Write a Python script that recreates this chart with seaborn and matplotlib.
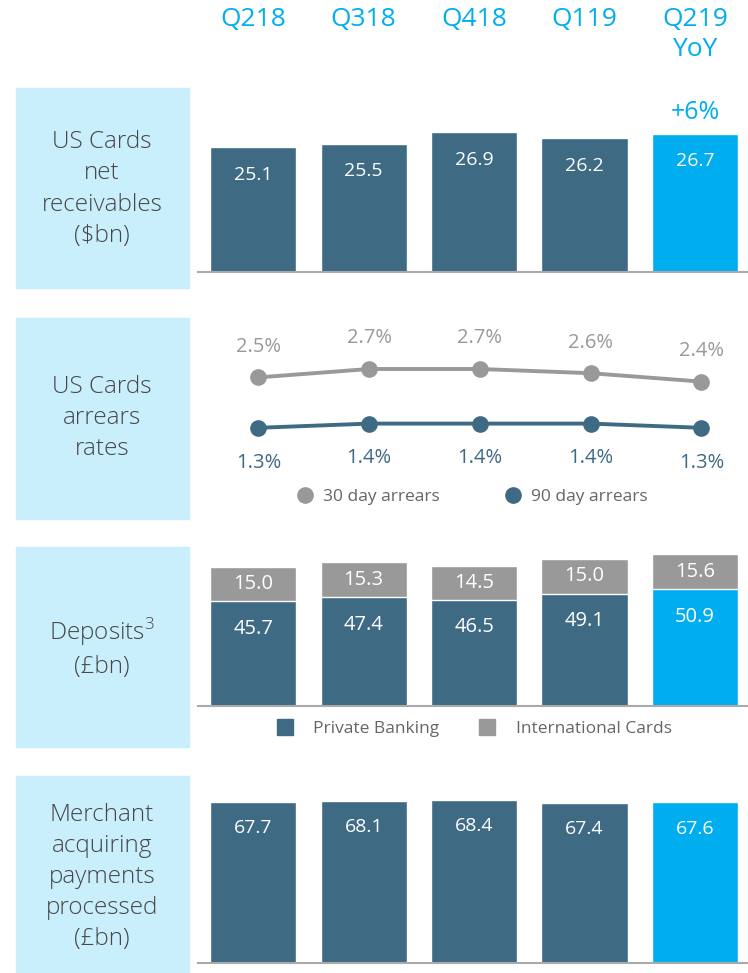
import matplotlib.pyplot as plt
import matplotlib.transforms as mtransforms
from matplotlib.patches import Rectangle
from matplotlib.lines import Line2D
import seaborn as sns
import pandas as pd

# Data
quarters = ['Q218', 'Q318', 'Q418', 'Q119', 'Q219']
receivables = [25.1, 25.5, 26.9, 26.2, 26.7]
arrears_30 = [2.5, 2.7, 2.7, 2.6, 2.4]
arrears_90 = [1.3, 1.4, 1.4, 1.4, 1.3]
private_banking = [45.7, 47.4, 46.5, 49.1, 50.9]
intl_cards = [15.0, 15.3, 14.5, 15.0, 15.6]
merchant = [67.7, 68.1, 68.4, 67.4, 67.6]
yoy_text = '+6%'

side_labels = ['US Cards\nnet\nreceivables\n($bn)',
               'US Cards\narrears\nrates',
               'Deposits$^{\\mathregular{3}}$\n(£bn)',
               'Merchant\nacquiring\npayments\nprocessed\n(£bn)']

DARK = '#3F6A84'
BRIGHT = '#00AEEF'
GREY = '#999999'
BOX = '#C9EEFC'
TXT = '#474747'

sns.set_style('white')
plt.rcParams['font.family'] = ['Open Sans', 'DejaVu Sans']

W, H = 748, 973
fig = plt.figure(figsize=(W / 100, H / 100), dpi=100)


def px_axes(left, top, right, bottom):
    return fig.add_axes([left / W, 1 - bottom / H, (right - left) / W, (bottom - top) / H])


def clean(ax, baseline=True):
    ax.set_xlabel('')
    ax.set_ylabel('')
    ax.set_xticks([])
    ax.set_yticks([])
    for s in ['top', 'left', 'right']:
        ax.spines[s].set_visible(False)
    if baseline:
        ax.spines['bottom'].set_color('#AAAAAA')
        ax.spines['bottom'].set_linewidth(1.5)
    else:
        ax.spines['bottom'].set_visible(False)
    ax.patch.set_alpha(0)


def legend_item(handle, label, marker_x, text_x, y, fs=12.5):
    # one legend entry placed by pixel position of marker and text
    em = fs * 100 / 72
    left = marker_x - em / 2
    fig.legend([handle], [label], loc='center left',
               bbox_to_anchor=(left / W, 1 - y / H), frameon=False, fontsize=fs,
               labelcolor='#666666', handlelength=1.0,
               handletextpad=(text_x - left) / em - 1.0,
               borderpad=0, borderaxespad=0)


bar_colors = [DARK, DARK, DARK, DARK, BRIGHT]

# side boxes
boxes = [(88, 288), (318, 519), (547, 747), (776, 980)]
centers = [189, 418, 648, 877]
for (y0, y1), cy, lab in zip(boxes, centers, side_labels):
    fig.add_artist(Rectangle((16 / W, 1 - y1 / H), 173 / W, (y1 - y0) / H,
                             transform=fig.transFigure, color=BOX, zorder=0))
    fig.text(102 / W, 1 - cy / H, lab, ha='center', va='center', fontsize=17.5,
             color=TXT, linespacing=1.39, fontweight='light')

# panel 1: US Cards net receivables
df1 = pd.DataFrame({'q': quarters, 'v': receivables})
ax1 = px_axes(198, 95, 748, 272)
sns.barplot(data=df1, x='q', y='v', hue='q', palette=bar_colors, width=0.78,
            legend=False, ax=ax1, saturation=1)
ax1.set_xlim(-0.5, 4.48)
ax1.set_ylim(10.1, 10.1 + 177 / 8.33)
clean(ax1)
for i, v in enumerate(receivables):
    ax1.annotate(f'{v:.1f}', (i, v), xytext=(0, -20), textcoords='offset points',
                 ha='center', va='center', color='white', fontsize=14)
ax1.annotate(yoy_text, (4, receivables[4]), xytext=(0, 15), textcoords='offset points',
             ha='center', va='center', color=BRIGHT, fontsize=18)

# header labels
trans = mtransforms.blended_transform_factory(ax1.transData, fig.transFigure)
for i, q in enumerate(quarters):
    ax1.text(i, 1 - 20 / H, q, transform=trans, ha='center', va='center',
             color=BRIGHT, fontsize=19)
ax1.text(4, 1 - 50 / H, 'YoY', transform=trans, ha='center', va='center',
         color=BRIGHT, fontsize=19)

# panel 2: arrears rates
df2 = pd.DataFrame({'q': list(range(5)) * 2,
                    'v': arrears_30 + arrears_90,
                    's': ['30 day arrears'] * 5 + ['90 day arrears'] * 5})
ax2 = px_axes(203, 320, 753, 480)
sns.lineplot(data=df2, x='q', y='v', hue='s', palette=[GREY, DARK], marker='o',
             markersize=12, markeredgewidth=0, linewidth=2.8, legend=False, ax=ax2)
ax2.set_xlim(-0.5, 4.466)
ax2.set_ylim(2.7 - 111 / 42, 2.7 + 49 / 42)
clean(ax2, baseline=False)
for i, v in enumerate(arrears_30):
    ax2.annotate(f'{v:.1f}%', (i, v), xytext=(0, 22), textcoords='offset points',
                 ha='center', va='center', color=GREY, fontsize=14.5)
for i, v in enumerate(arrears_90):
    ax2.annotate(f'{v:.1f}%', (i, v), xytext=(0, -25), textcoords='offset points',
                 ha='center', va='center', color=DARK, fontsize=14.5)
h30 = Line2D([], [], marker='o', linestyle='', color=GREY, markersize=11)
h90 = Line2D([], [], marker='o', linestyle='', color=DARK, markersize=11)
legend_item(h30, '30 day arrears', 305, 323, 497)
legend_item(h90, '90 day arrears', 513, 531, 497)

# panel 3: deposits (stacked)
totals = [p + c for p, c in zip(private_banking, intl_cards)]
df3 = pd.DataFrame({'q': quarters, 'pb': private_banking, 'ic': intl_cards, 'tot': totals})
ax3 = px_axes(198, 540, 748, 706)
sns.barplot(data=df3, x='q', y='tot', color=GREY, width=0.78, ax=ax3, saturation=1)
sns.barplot(data=df3, x='q', y='pb', hue='q', palette=bar_colors, width=0.78,
            legend=False, ax=ax3, saturation=1)
ax3.set_xlim(-0.5, 4.48)
ax3.set_ylim(0, 166 / 2.29)
clean(ax3)
for i, (p, c) in enumerate(zip(private_banking, intl_cards)):
    ax3.text(i, p + c / 2, f'{c:.1f}', ha='center', va='center', color='white', fontsize=14.5)
    ax3.annotate(f'{p:.1f}', (i, p), xytext=(0, -20), textcoords='offset points',
                 ha='center', va='center', color='white', fontsize=14.5)
hpb = Line2D([], [], marker='s', linestyle='', color=DARK, markersize=12)
hic = Line2D([], [], marker='s', linestyle='', color=GREY, markersize=12)
legend_item(hpb, 'Private Banking', 285, 313, 729)
legend_item(hic, 'International Cards', 487, 516, 729)

# panel 4: merchant acquiring
df4 = pd.DataFrame({'q': quarters, 'v': merchant})
ax4 = px_axes(198, 790, 748, 963)
sns.barplot(data=df4, x='q', y='v', hue='q', palette=bar_colors, width=0.78,
            legend=False, ax=ax4, saturation=1)
ax4.set_xlim(-0.5, 4.48)
ax4.set_ylim(14, 14 + 173 / 3)
clean(ax4)
for i, v in enumerate(merchant):
    ax4.annotate(f'{v:.1f}', (i, v), xytext=(0, -19), textcoords='offset points',
                 ha='center', va='center', color='white', fontsize=14)

fig.savefig('out.png', dpi=100)
